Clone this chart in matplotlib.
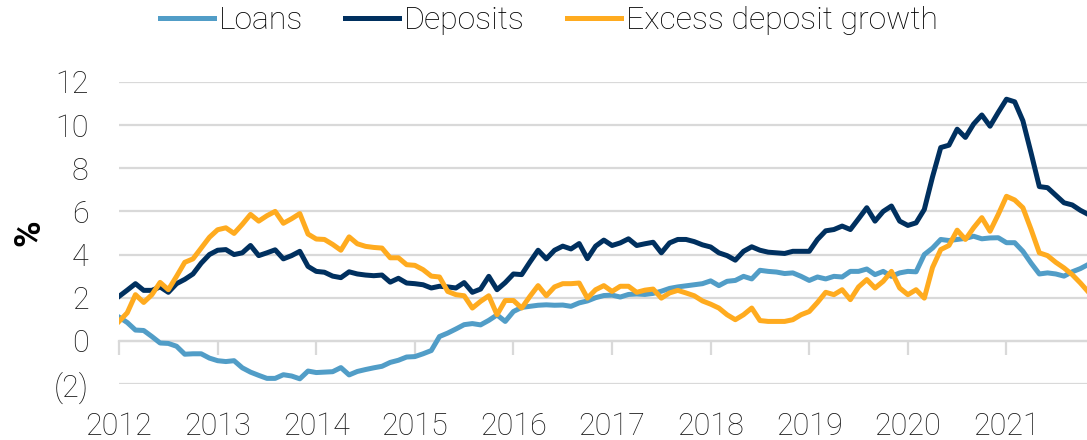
import matplotlib
matplotlib.use("Agg")
import matplotlib.pyplot as plt
from matplotlib.ticker import FuncFormatter
import numpy as np

# monthly yoy growth, Jan 2012 onwards (%)
loans = [1.1, 0.85, 0.5, 0.48, 0.2, -0.1, -0.12, -0.25, -0.62, -0.6, -0.6, -0.8,
         -0.92, -0.96, -0.92, -1.25, -1.45, -1.6, -1.74, -1.74, -1.57, -1.63, -1.76, -1.4,
         -1.47, -1.45, -1.43, -1.24, -1.58, -1.42, -1.33, -1.25, -1.18, -1.0, -0.9, -0.75,
         -0.73, -0.6, -0.45, 0.2, 0.36, 0.55, 0.75, 0.8, 0.74, 0.95, 1.2, 0.9,
         1.36, 1.55, 1.6, 1.65, 1.67, 1.65, 1.66, 1.6, 1.76, 1.85, 2.0, 2.1,
         2.12, 2.03, 2.15, 2.17, 2.15, 2.2, 2.3, 2.43, 2.5, 2.55, 2.6, 2.65,
         2.78, 2.56, 2.76, 2.8, 2.99, 2.87, 3.27, 3.22, 3.19, 3.12, 3.15, 2.99,
         2.8, 2.96, 2.87, 2.99, 2.96, 3.22, 3.22, 3.33, 3.07, 3.22, 2.99, 3.15,
         3.22, 3.2, 4.0, 4.3, 4.7, 4.65, 4.7, 4.75, 4.85, 4.73, 4.77, 4.78,
         4.55, 4.55, 4.15, 3.6, 3.1, 3.15, 3.1, 3.0, 3.2, 3.35, 3.55]

deposits = [2.06, 2.35, 2.65, 2.34, 2.34, 2.5, 2.25, 2.65, 2.85, 3.1, 3.6, 4.0,
            4.2, 4.23, 4.0, 4.08, 4.42, 3.95, 4.08, 4.22, 3.8, 3.95, 4.15, 3.45,
            3.22, 3.18, 3.0, 2.93, 3.2, 3.1, 3.05, 3.02, 3.05, 2.72, 2.9, 2.68,
            2.65, 2.6, 2.45, 2.53, 2.5, 2.45, 2.7, 2.25, 2.4, 2.99, 2.37, 2.7,
            3.1, 3.07, 3.65, 4.2, 3.8, 4.2, 4.39, 4.26, 4.51, 3.81, 4.39, 4.67,
            4.42, 4.54, 4.73, 4.42, 4.5, 4.57, 4.08, 4.54, 4.7, 4.7, 4.6, 4.45,
            4.35, 4.08, 3.95, 3.74, 4.15, 4.36, 4.2, 4.11, 4.08, 4.05, 4.15, 4.15,
            4.15, 4.7, 5.1, 5.16, 5.32, 5.16, 5.66, 6.17, 5.55, 6.0, 6.25, 5.55,
            5.35, 5.47, 6.09, 7.6, 8.96, 9.07, 9.81, 9.43, 10.05, 10.47, 9.95, 10.59,
            11.2, 11.08, 10.2, 8.7, 7.15, 7.1, 6.75, 6.4, 6.3, 6.05, 5.85]

excess = [0.9, 1.3, 2.14, 1.78, 2.14, 2.71, 2.37, 2.99, 3.64, 3.8, 4.3, 4.8,
          5.15, 5.24, 4.98, 5.4, 5.86, 5.55, 5.8, 6.0, 5.45, 5.66, 5.9, 4.95,
          4.72, 4.7, 4.47, 4.2, 4.82, 4.5, 4.38, 4.33, 4.3, 3.85, 3.85, 3.53,
          3.5, 3.3, 3.0, 2.96, 2.29, 2.14, 2.09, 1.52, 1.83, 2.09, 1.21, 1.87,
          1.87, 1.52, 2.06, 2.56, 2.09, 2.5, 2.65, 2.65, 2.68, 1.98, 2.37, 2.56,
          2.29, 2.53, 2.53, 2.25, 2.35, 2.4, 1.98, 2.22, 2.34, 2.22, 2.09, 1.85,
          1.7, 1.52, 1.21, 0.98, 1.21, 1.52, 0.94, 0.9, 0.9, 0.9, 0.98, 1.21,
          1.36, 1.78, 2.25, 2.14, 2.37, 1.91, 2.5, 2.84, 2.45, 2.76, 3.22, 2.45,
          2.14, 2.37, 1.98, 3.4, 4.23, 4.42, 5.13, 4.7, 5.24, 5.71, 5.08, 5.86,
          6.7, 6.53, 6.17, 5.16, 4.08, 3.95, 3.64, 3.38, 3.07, 2.68, 2.25]

years = ["2012", "2013", "2014", "2015", "2016", "2017", "2018", "2019", "2020", "2021"]
y_ticks = [-2, 0, 2, 4, 6, 8, 10, 12]

months = np.arange(len(loans))
grid_col = "#D9D9D9"

plt.rcParams["font.family"] = ["Roboto", "DejaVu Sans"]
plt.rcParams["font.weight"] = "light"

fig = plt.figure(figsize=(10.87, 4.4), dpi=100)
ax = fig.add_axes([0.1095, 0.1273, 0.8905, 0.6864])

ax.plot(months, loans, color="#519DC7", lw=3.6, label="Loans", solid_joinstyle="round")
ax.plot(months, deposits, color="#00305F", lw=3.6, label="Deposits", solid_joinstyle="round")
ax.plot(months, excess, color="#FFAB1F", lw=3.6, label="Excess deposit growth", solid_joinstyle="round")

ymin, ymax = y_ticks[0], y_ticks[-1]
ax.set_ylim(ymin, ymax)
ax.set_xlim(0, 117.8)
ax.set_yticks(y_ticks)
ax.yaxis.set_major_formatter(FuncFormatter(lambda v, p: f"({abs(int(v))})" if v < 0 else f"{int(v)}"))
ax.set_xticks(np.arange(len(years)) * 12)
ax.set_xticklabels(years)

for s in ax.spines.values():
    s.set_visible(False)
ax.tick_params(axis="both", length=0, labelsize=22, colors="#1a1a1a")
ax.tick_params(axis="y", pad=22)
ax.tick_params(axis="x", pad=20)
ax.yaxis.grid(True, color=grid_col, lw=1.6)
ax.set_axisbelow(True)

# category axis sits on the zero line, with ticks hanging below
sec = ax.secondary_xaxis((0 - ymin) / (ymax - ymin))
sec.set_xticks(np.arange(len(years)) * 12)
sec.tick_params(axis="x", length=10, width=1.6, color=grid_col, labelbottom=False, labeltop=False)
for s in sec.spines.values():
    s.set_color(grid_col)
    s.set_linewidth(1.6)

ax.set_ylabel("%", fontsize=26, fontweight="bold", va="center")
ax.yaxis.set_label_coords(-0.093, 0.5)

fig.legend(loc="center", bbox_to_anchor=(0.505, 0.953), ncol=3, frameon=False,
           fontsize=23, handlelength=1.7, handletextpad=0.15, columnspacing=1.3)

fig.savefig("out.png", dpi=100)
